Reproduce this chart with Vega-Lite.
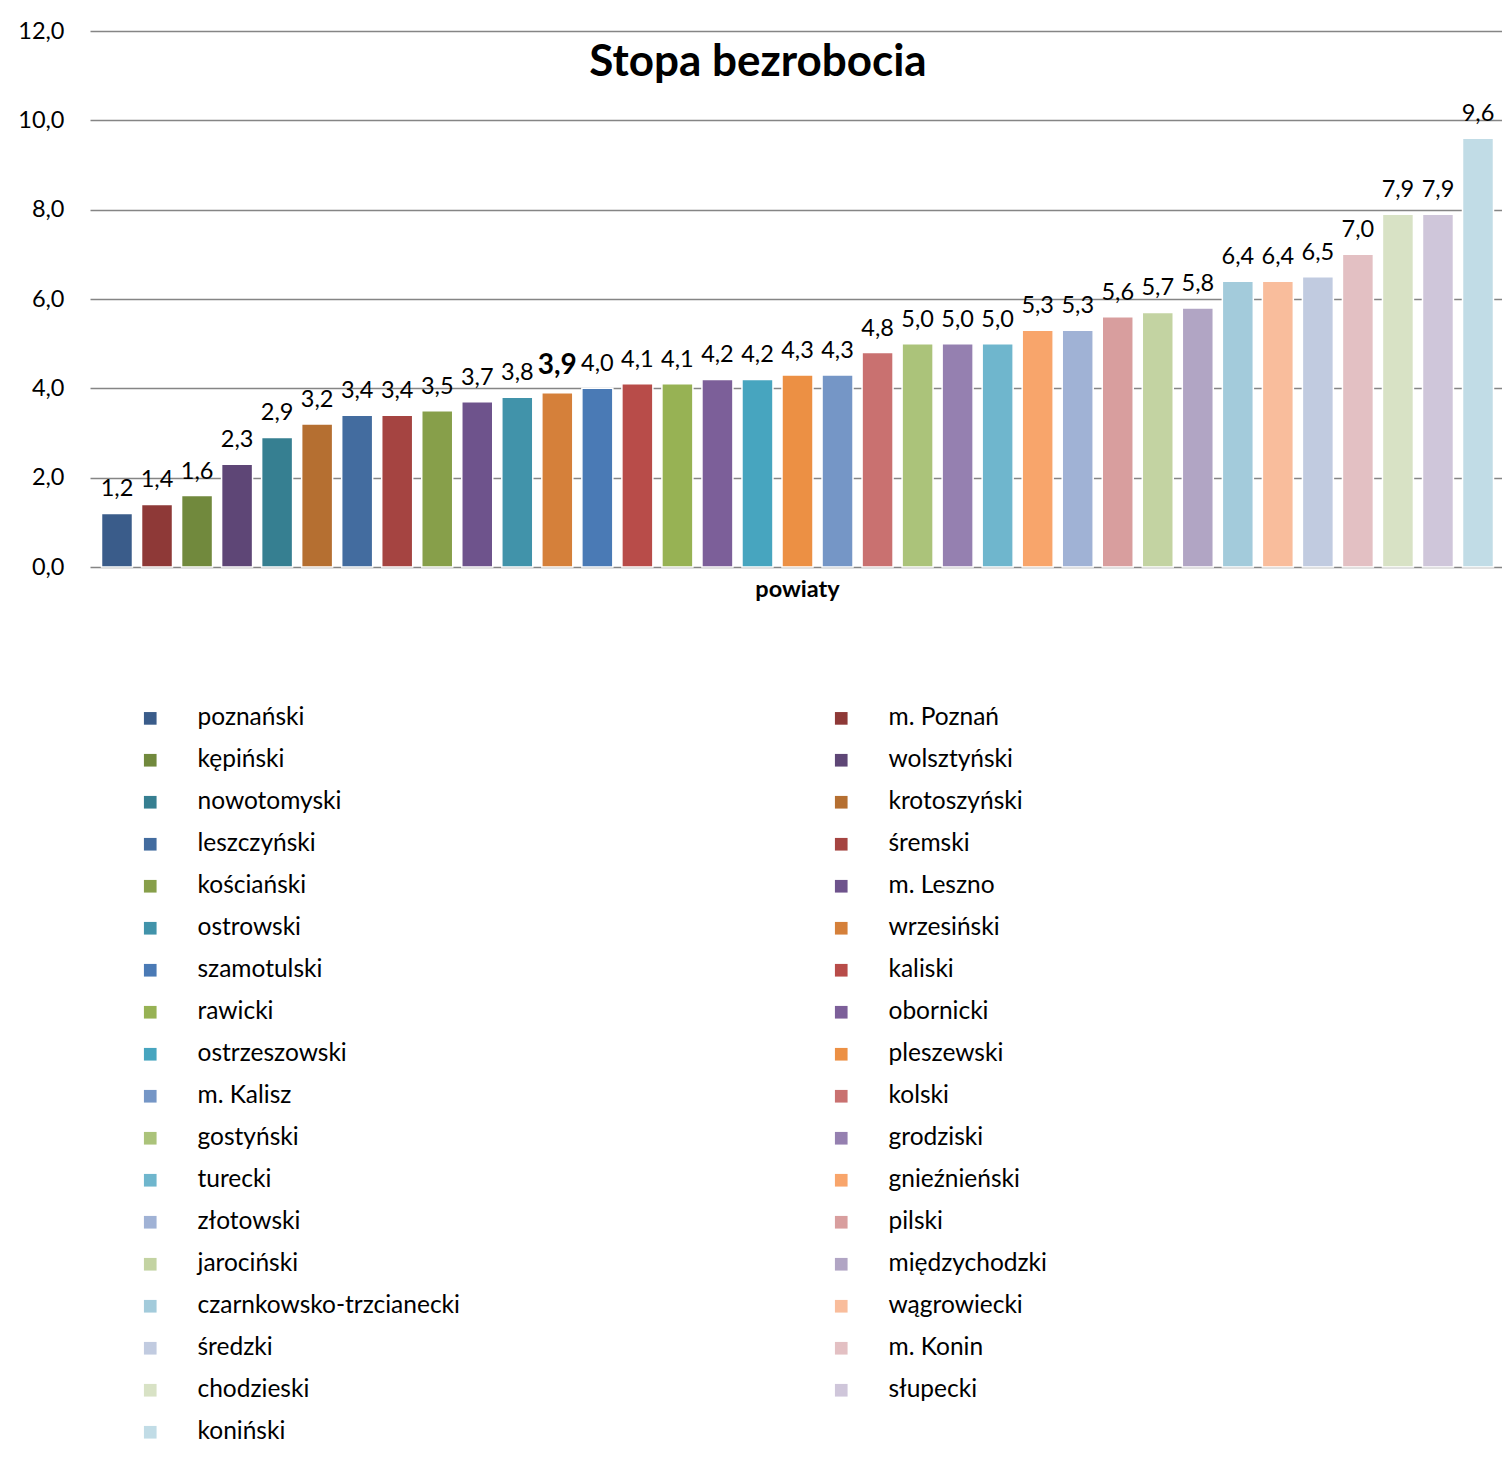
{
  "$schema": "https://vega.github.io/schema/vega-lite/v6.json",
  "autosize": {"type": "none"},
  "padding": {"left": 90, "top": 31, "right": 0, "bottom": 890},
  "width": 1412,
  "height": 536,
  "background": "white",
  "config": {
    "locale": {"number": {"decimal": ",", "thousands": " ", "grouping": [3], "currency": ["", " zł"]}},
    "font": "Lato",
    "view": {"stroke": null}
  },
  "title": {
    "text": "Stopa bezrobocia",
    "fontSize": 44,
    "fontWeight": "bold",
    "font": "Lato",
    "color": "#000000",
    "anchor": "middle",
    "dx": -38,
    "offset": -66
  },
  "data": {
    "values": [
      {"powiat": "poznański", "stopa": 1.2},
      {"powiat": "m. Poznań", "stopa": 1.4},
      {"powiat": "kępiński", "stopa": 1.6},
      {"powiat": "wolsztyński", "stopa": 2.3},
      {"powiat": "nowotomyski", "stopa": 2.9},
      {"powiat": "krotoszyński", "stopa": 3.2},
      {"powiat": "leszczyński", "stopa": 3.4},
      {"powiat": "śremski", "stopa": 3.4},
      {"powiat": "kościański", "stopa": 3.5},
      {"powiat": "m. Leszno", "stopa": 3.7},
      {"powiat": "ostrowski", "stopa": 3.8},
      {"powiat": "wrzesiński", "stopa": 3.9},
      {"powiat": "szamotulski", "stopa": 4.0},
      {"powiat": "kaliski", "stopa": 4.1},
      {"powiat": "rawicki", "stopa": 4.1},
      {"powiat": "obornicki", "stopa": 4.2},
      {"powiat": "ostrzeszowski", "stopa": 4.2},
      {"powiat": "pleszewski", "stopa": 4.3},
      {"powiat": "m. Kalisz", "stopa": 4.3},
      {"powiat": "kolski", "stopa": 4.8},
      {"powiat": "gostyński", "stopa": 5.0},
      {"powiat": "grodziski", "stopa": 5.0},
      {"powiat": "turecki", "stopa": 5.0},
      {"powiat": "gnieźnieński", "stopa": 5.3},
      {"powiat": "złotowski", "stopa": 5.3},
      {"powiat": "pilski", "stopa": 5.6},
      {"powiat": "jarociński", "stopa": 5.7},
      {"powiat": "międzychodzki", "stopa": 5.8},
      {"powiat": "czarnkowsko-trzcianecki", "stopa": 6.4},
      {"powiat": "wągrowiecki", "stopa": 6.4},
      {"powiat": "średzki", "stopa": 6.5},
      {"powiat": "m. Konin", "stopa": 7.0},
      {"powiat": "chodzieski", "stopa": 7.9},
      {"powiat": "słupecki", "stopa": 7.9},
      {"powiat": "koniński", "stopa": 9.6}
    ]
  },
  "encoding": {
    "x": {
      "field": "powiat",
      "type": "nominal",
      "sort": null,
      "scale": {"paddingInner": 0.226, "paddingOuter": 0.25, "align": 0.575},
      "axis": {
        "title": "powiaty",
        "titleFontSize": 23.5,
        "titleFontWeight": "bold",
        "titleColor": "#000000",
        "titlePadding": 10,
        "titleX": 707,
        "labels": false,
        "ticks": false,
        "domain": false
      }
    },
    "y": {
      "field": "stopa",
      "type": "quantitative",
      "scale": {"domain": [0, 12], "nice": false},
      "axis": {
        "title": null,
        "values": [0, 2, 4, 6, 8, 10, 12],
        "format": ".1f",
        "labelFontSize": 23.5,
        "labelColor": "#000000",
        "labelPadding": 26,
        "ticks": false,
        "domain": false,
        "grid": true,
        "gridColor": "#858585",
        "gridWidth": 1.5
      }
    }
  },
  "layer": [
    {
      "mark": {"type": "bar", "color": "#d6d6d6", "opacity": 0.8, "width": {"band": 0.97}},
      "encoding": {}
    },
    {
      "mark": {"type": "bar", "stroke": "white", "strokeWidth": 1.5},
      "encoding": {
        "color": {
          "field": "powiat",
          "type": "nominal",
          "sort": null,
          "scale": {
            "domain": ["poznański", "m. Poznań", "kępiński", "wolsztyński", "nowotomyski", "krotoszyński", "leszczyński", "śremski", "kościański", "m. Leszno", "ostrowski", "wrzesiński", "szamotulski", "kaliski", "rawicki", "obornicki", "ostrzeszowski", "pleszewski", "m. Kalisz", "kolski", "gostyński", "grodziski", "turecki", "gnieźnieński", "złotowski", "pilski", "jarociński", "międzychodzki", "czarnkowsko-trzcianecki", "wągrowiecki", "średzki", "m. Konin", "chodzieski", "słupecki", "koniński"],
            "range": ["#3A5C8A", "#8E3937", "#71893D", "#5E4676", "#367F91", "#B56F31", "#436C9F", "#A54441", "#879F4A", "#6E538C", "#4193AA", "#D5803A", "#4A7AB5", "#B84C49", "#97B254", "#7C5F99", "#47A5BF", "#EC9044", "#7596C6", "#C97170", "#ABC37A", "#9580B0", "#6FB6CD", "#F8A56B", "#A0B2D5", "#D89E9E", "#C3D3A2", "#B1A5C4", "#A3CBDB", "#F9BD9C", "#C1CBE0", "#E3C0C3", "#D8E2C5", "#CFC6DA", "#C1DCE6"]
          },
          "legend": {
            "title": null,
            "orient": "none",
            "direction": "horizontal",
            "legendX": 48,
            "legendY": 675,
            "columns": 2,
            "columnPadding": 369,
            "rowPadding": 17,
            "symbolLimit": 0,
            "symbolType": "square",
            "symbolSize": 160,
            "symbolStrokeWidth": 0,
            "labelOffset": 35,
            "labelFontSize": 24.5,
            "labelColor": "#000000",
            "labelLimit": 0,
            "padding": 0
          }
        }
      }
    },
    {
      "transform": [{"filter": "datum.powiat !== 'wrzesiński'"}],
      "mark": {"type": "text", "baseline": "alphabetic", "dy": -17, "fontSize": 23.5, "color": "#000000"},
      "encoding": {
        "text": {"field": "stopa", "type": "quantitative", "format": ".1f"}
      }
    },
    {
      "transform": [{"filter": "datum.powiat === 'wrzesiński'"}],
      "mark": {"type": "text", "baseline": "alphabetic", "dy": -19, "fontSize": 28, "fontWeight": "bold", "color": "#000000"},
      "encoding": {
        "text": {"field": "stopa", "type": "quantitative", "format": ".1f"}
      }
    }
  ]
}
